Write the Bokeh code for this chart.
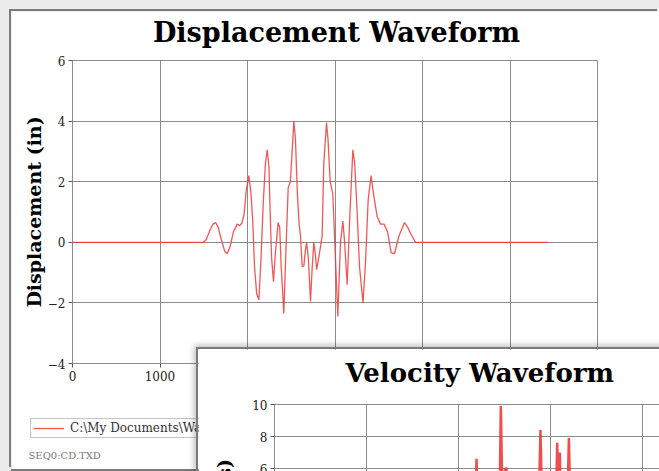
from bokeh.plotting import figure
from bokeh.models import Range1d, FixedTicker, Legend, LegendItem, Label
from bokeh.layouts import column
from bokeh.embed import file_html
from bokeh.resources import INLINE

# ---------------- data ----------------
time_ms = [0, 1500, 1530, 1570, 1605, 1635, 1665, 1700, 1740, 1768, 1800, 1840, 1882, 1910,
           1935, 1960, 1985, 2015, 2040, 2060, 2080, 2105, 2130, 2155, 2180, 2205, 2225,
           2245, 2260, 2275, 2297, 2320, 2350, 2368, 2385, 2415, 2440, 2465, 2490, 2510,
           2530, 2548, 2570, 2590, 2606, 2625, 2644, 2660, 2675, 2695, 2720, 2740, 2758,
           2775, 2790, 2815, 2853, 2872, 2903, 2920, 2945, 2975, 2998, 3032, 3063, 3090,
           3110, 3139, 3170, 3204, 3225, 3253, 3280, 3320, 3350, 3379, 3413, 3440, 3482,
           3520, 3560, 3600, 3642, 3680, 3730, 3794, 3830, 3863, 3920, 5440]
displacement_in = [0, 0, 0.1, 0.4, 0.6, 0.65, 0.5, 0.1, -0.3, -0.37, -0.15, 0.35, 0.6, 0.55,
                   0.63, 0.9, 1.7, 2.2, 1.6, 0.7, -0.8, -1.7, -1.9, -0.5, 1.3, 2.6, 3.05,
                   2.5, 0.9, -0.5, -1.3, -0.3, 0.65, 0.5, -0.8, -2.35, -0.2, 1.8, 2.0, 3.0,
                   4.0, 3.4, 1.6, 0.6, 0.2, -0.8, -0.78, -0.3, 0.0, -0.5, -1.95, -0.8, 0.0,
                   -0.4, -0.9, -0.5, 0.2, 2.6, 3.95, 3.4, 2.0, 1.6, 0.0, -2.45, 0.0, 0.7,
                   0.0, -1.4, 0.9, 3.05, 2.6, 1.0, -0.8, -2.0, -0.6, 1.4, 2.2, 1.6, 0.85,
                   0.6, 0.6, 0.35, -0.35, -0.37, 0.2, 0.65, 0.5, 0.3, 0.0, 0.0]

vel_time = [0, 1500, 2100, 2175, 2196, 2215, 2300, 2445, 2460, 2478, 2505, 2522, 2540,
            2700, 2870, 2891, 2910, 3060, 3073, 3085, 3102, 3112, 3180, 3200, 3218,
            3400, 3950, 5440]
velocity = [0, 0, 1.5, 2.0, 6.6, 2.0, -2.0, 3.0, 9.9, 4.0, 5.9, 6.05, 3.0,
            -3.0, 3.0, 8.4, 3.0, 4.0, 7.6, 5.0, 7.0, 3.0, 3.0, 7.9, 3.0,
            -2.0, 0.0, 0.0]

x_ticks = [0, 1000, 2000, 3000, 4000, 5000, 6000]
disp_ticks = [-4, -2, 0, 2, 4, 6]
vel_ticks = [-6, -4, -2, 0, 2, 4, 6, 8, 10]
title_disp = "Displacement Waveform"
title_vel = "Velocity  Waveform"
legend_label = "C:\\My Documents\\Waveforms\\SEQ0CD.TXT"
file_note = "SEQ0:CD.TXD"

FONT = "DejaVu Serif"
GRID = "#8c8c8c"
RED = "#f03a3a"


def style_axis(ax):
    ax.major_label_text_font = FONT
    ax.major_label_text_font_size = "12px"
    ax.major_label_text_color = "#222222"
    ax.axis_line_color = GRID
    ax.major_tick_line_color = "#555555"
    ax.major_tick_out = 4
    ax.major_tick_in = 0
    ax.minor_tick_line_color = None
    ax.major_label_standoff = 3
    ax.axis_label_text_font = FONT
    ax.axis_label_text_font_size = "19px"
    ax.axis_label_text_font_style = "bold"
    ax.axis_label_text_color = "black"
    ax.axis_label_standoff = 0


def bare(fig):
    fig.frame_align = False
    fig.outline_line_color = None
    fig.grid.grid_line_color = None


# ---------------- main chart (displacement) ----------------
p = figure(width=648, height=458, output_backend="svg", toolbar_location=None,
           x_range=Range1d(0, 6000), y_range=Range1d(-4, 6),
           min_border_left=61, min_border_right=62, min_border_top=49, min_border_bottom=106)
p.frame_align = False
p.border_fill_color = "white"
p.background_fill_color = "white"
p.outline_line_color = GRID
p.xaxis.ticker = FixedTicker(ticks=x_ticks)
p.yaxis.ticker = FixedTicker(ticks=disp_ticks)
style_axis(p.xaxis)
style_axis(p.yaxis)
p.yaxis.axis_label = "Displacement (in)"
p.grid.grid_line_color = GRID
p.grid.grid_line_width = 1

p.line(time_ms, displacement_in, line_color=RED, line_width=1.3, line_alpha=0.85)

p.margin = (11, 0, 0, 11)
p.styles = {"box-shadow": "-2px -2px 0 0 #7a7a7a, 0 2px 0 0 #7a7a7a", "flex-shrink": "0"}

# ---------------- legend strip of the main chart ----------------
lg = figure(width=200, height=50, output_backend="svg", toolbar_location=None,
            x_range=Range1d(-2, -1), y_range=Range1d(-20, -19),
            x_axis_location=None, y_axis_location=None,
            min_border_left=0, min_border_right=0, min_border_top=0, min_border_bottom=0)
bare(lg)
lg.border_fill_color = "white"
lg.background_fill_color = "white"
lr = lg.line(time_ms, displacement_in, line_color=RED, line_width=1.3, line_alpha=0.85)
legend = Legend(items=[LegendItem(label=legend_label, renderers=[lr])],
                location=(2, 30), margin=0, padding=2, spacing=0,
                glyph_width=31, glyph_height=10, label_standoff=6, label_height=10,
                label_text_font=FONT, label_text_font_size="12px", label_text_color="#333333",
                border_line_color=GRID, border_line_width=1, background_fill_color="white",
                background_fill_alpha=1)
lg.add_layout(legend)
lg.add_layout(Label(x=0, y=37, x_units="canvas", y_units="canvas", text=file_note,
                    text_font=FONT, text_font_size="10px", text_color="#777777",
                    text_baseline="middle"))
lg.margin = (-51, 0, 0, 28)
lg.styles = {"flex-shrink": "0"}

# ---------------- overlapping chart (velocity) ----------------
p2 = figure(width=659, height=420, output_backend="svg", toolbar_location=None,
            x_range=Range1d(0, 6000), y_range=Range1d(-6, 10),
            min_border_left=76, min_border_right=31, min_border_top=55, min_border_bottom=109)
p2.frame_align = False
p2.border_fill_color = "white"
p2.background_fill_color = "white"
p2.outline_line_color = GRID
p2.xaxis.ticker = FixedTicker(ticks=x_ticks)
p2.yaxis.ticker = FixedTicker(ticks=vel_ticks)
style_axis(p2.xaxis)
style_axis(p2.yaxis)
p2.yaxis.axis_label = "Velocity (in/s)"
p2.yaxis.axis_label_standoff = 12
p2.grid.grid_line_color = GRID
p2.grid.grid_line_width = 1

p2.line(vel_time, velocity, line_color=RED, line_width=2.5, line_alpha=0.9)

p2.margin = (-119, 0, 0, 198)
p2.styles = {"box-shadow": "-2px -2px 0 0 #7a7a7a, -4px -4px 6px 0 rgba(0,0,0,0.25)",
             "flex-shrink": "0"}

# ---------------- transparent text layer for both chart titles ----------------
tf = figure(width=659, height=471, output_backend="svg", toolbar_location=None,
            x_range=Range1d(0, 1), y_range=Range1d(0, 1),
            x_axis_location=None, y_axis_location=None,
            min_border_left=0, min_border_right=0, min_border_top=0, min_border_bottom=0)
bare(tf)
tf.border_fill_alpha = 0
tf.background_fill_alpha = 0
tf.add_layout(Label(x=336, y=32, x_units="canvas", y_units="canvas", text=title_disp,
                    text_font=FONT, text_font_size="27px", text_font_style="bold",
                    text_color="black", text_align="center", text_baseline="middle"))
tf.add_layout(Label(x=345, y=372, x_units="canvas", y_units="canvas", text=title_vel,
                    text_font=FONT, text_font_size="26px", text_font_style="bold",
                    text_color="black", text_align="left", text_baseline="middle"))
tf.margin = (-769, 0, 0, 0)
tf.styles = {"flex-shrink": "0", "pointer-events": "none"}

layout = column(p, lg, p2, tf, spacing=0, width=659, height=471)
layout.styles = {"background-color": "#ececec", "overflow": "hidden"}
open("out.html", "w").write(file_html(layout, INLINE))
